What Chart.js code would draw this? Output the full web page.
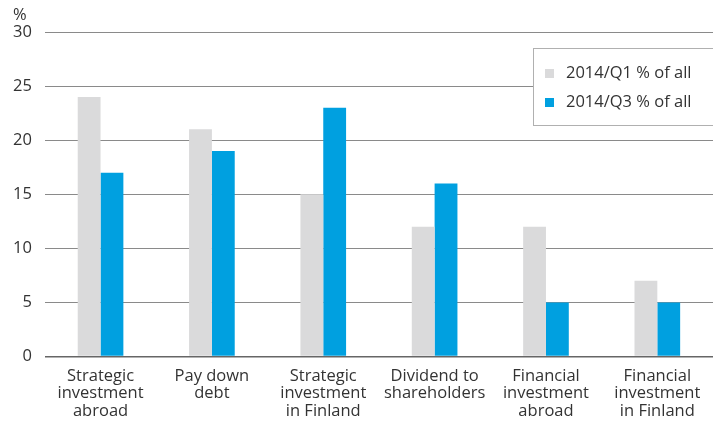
<!DOCTYPE html>
<html>
<head>
<meta charset="utf-8">
<script src="https://cdn.jsdelivr.net/npm/chart.js@4"></script>
<style>
  body { margin: 0; background: #fff; }
  #wrap { width: 713px; height: 423px; }
</style>
</head>
<body>
<div id="wrap"><canvas id="myChart" width="713" height="423"></canvas></div>
<script>
const categories = [
    ['Strategic', 'investment', 'abroad'],
    ['Pay down', 'debt'],
    ['Strategic', 'investment', 'in Finland'],
    ['Dividend to', 'shareholders'],
    ['Financial', 'investment', 'abroad'],
    ['Financial', 'investment', 'in Finland']
];
const q1Values = [24, 21, 15, 12, 12, 7];
const q3Values = [17, 19, 23, 16, 5, 5];
const seriesNames = ['2014/Q1 % of all', '2014/Q3 % of all'];
const seriesColors = ['#dadadb', '#00a0e0'];

const fontFamily = '"Open Sans", "Noto Sans", sans-serif';

// legend box and the "%" unit label, drawn on top of the chart
const boxLegend = {
    id: 'boxLegend',
    afterDraw(chart) {
        const ctx = chart.ctx;
        ctx.save();
        ctx.fillStyle = '#fff';
        ctx.fillRect(533, 48, 185, 77);
        ctx.strokeStyle = '#b0b0b0';
        ctx.lineWidth = 1;
        ctx.strokeRect(533.5, 48.5, 185, 77);

        ctx.font = '16.5px ' + fontFamily;
        ctx.textBaseline = 'middle';
        ctx.textAlign = 'left';
        chart.data.datasets.forEach((ds, i) => {
            const y = 73 + i * 29;
            ctx.fillStyle = ds.backgroundColor;
            ctx.fillRect(545, y - 4, 9, 9);
            ctx.fillStyle = '#333';
            ctx.fillText(ds.label, 566, y);
        });

        ctx.fillText('%', 13, 15);
        ctx.restore();
    }
};

const config = {
    type: 'bar',
    data: {
        labels: categories,
        datasets: [{
            label: seriesNames[0],
            data: q1Values,
            backgroundColor: seriesColors[0],
            categoryPercentage: 0.41,
            barPercentage: 1
        }, {
            label: seriesNames[1],
            data: q3Values,
            backgroundColor: seriesColors[1],
            categoryPercentage: 0.41,
            barPercentage: 1
        }]
    },
    options: {
        responsive: false,
        animation: false,
        layout: {
            padding: { top: 32, right: 0, left: 0, bottom: 0 }
        },
        plugins: {
            legend: { display: false },
            tooltip: { enabled: false }
        },
        scales: {
            x: {
                grid: { display: false },
                border: { display: false },
                ticks: {
                    color: '#333',
                    font: { family: fontFamily, size: 16.5, lineHeight: 1.06 },
                    padding: 3,
                    maxRotation: 0,
                    autoSkip: false
                }
            },
            y: {
                min: 0,
                max: 30,
                ticks: {
                    stepSize: 5,
                    color: '#333',
                    font: { family: fontFamily, size: 16.5 },
                    padding: 13
                },
                grid: {
                    drawTicks: false,
                    color: ctx => ctx.tick.value === 0 ? '#666' : '#8a8a8a',
                    lineWidth: ctx => ctx.tick.value === 0 ? 1.5 : 1
                },
                border: { display: false }
            }
        }
    },
    plugins: [boxLegend]
};

const myChart = new Chart(document.getElementById('myChart'), config);
</script>
</body>
</html>
